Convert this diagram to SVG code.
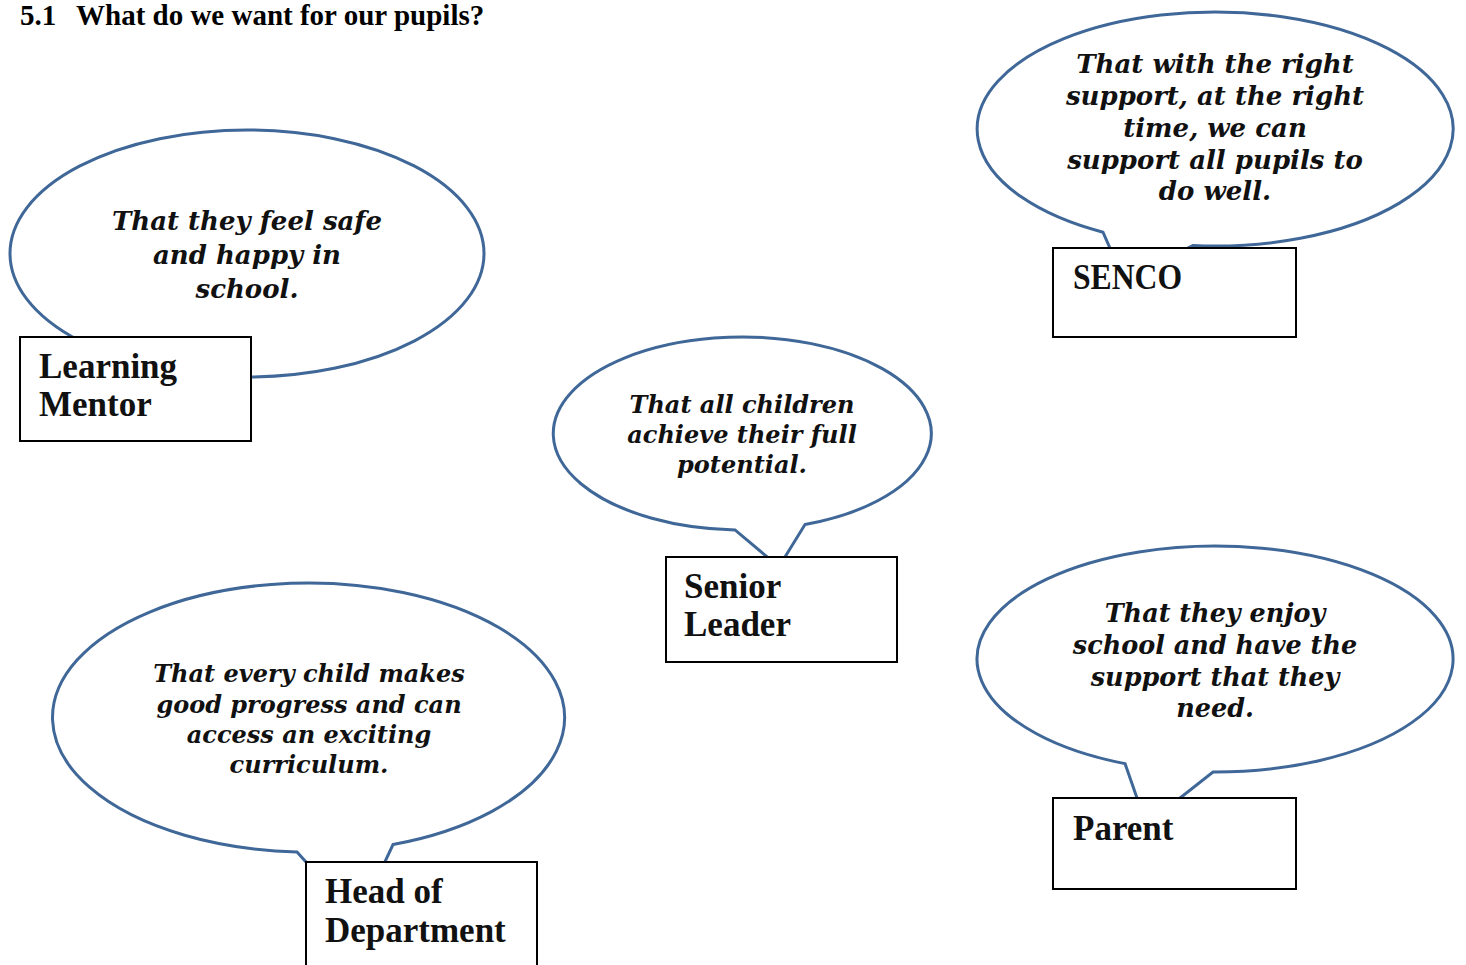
<svg xmlns="http://www.w3.org/2000/svg" width="1466" height="965" viewBox="0 0 1466 965">
<style>
.bubble{fill:#ffffff;stroke:#3f6798;stroke-width:3;stroke-linejoin:miter}
.box{fill:#ffffff;stroke:#000000;stroke-width:2}
.say{font-family:"DejaVu Serif","Liberation Serif",serif;font-weight:bold;font-style:italic;fill:#111111;text-anchor:middle}
.lbl{font-family:"Liberation Serif","DejaVu Serif",serif;font-weight:bold;font-size:35px;fill:#111111}
.title{font-family:"Liberation Serif","DejaVu Serif",serif;font-weight:bold;font-size:29px;fill:#000000}
</style>
<rect width="1466" height="965" fill="#ffffff"/>
<g id="title">
<text class="title" x="20" y="25">5.1</text>
<text class="title" x="76" y="25">What do we want for our pupils?</text>
</g>
<g id="connectors"></g>
<g id="learning-mentor">
<ellipse class="bubble" cx="247" cy="253.5" rx="237" ry="123.5"/>
<text class="say" font-size="26"><tspan x="247" y="230">That they feel safe</tspan><tspan x="247" y="264">and happy in</tspan><tspan x="247" y="298">school.</tspan></text>
<rect class="box" x="20" y="337" width="231" height="104"/>
<text class="lbl"><tspan x="39" y="378">Learning</tspan><tspan x="39" y="416">Mentor</tspan></text>
</g>
<g id="senco">
<path class="bubble" d="M1193,245.5 A238,117 0 1 0 1103,232.2 L1111.7,252 L1180,252 Z"/>
<text class="say" font-size="26"><tspan x="1215" y="73">That with the right</tspan><tspan x="1215" y="105">support, at the right</tspan><tspan x="1215" y="137">time, we can</tspan><tspan x="1215" y="169">support all pupils to</tspan><tspan x="1215" y="200">do well.</tspan></text>
<rect class="box" x="1053" y="248" width="243" height="89"/>
<text class="lbl" x="1073" y="289" textLength="109" lengthAdjust="spacingAndGlyphs">SENCO</text>
</g>
<g id="senior-leader">
<path class="bubble" d="M805,524.5 A189,96.5 0 1 0 735,529.9 L772,561 L782.5,561 Z"/>
<text class="say" font-size="24"><tspan x="742" y="413">That all children</tspan><tspan x="742" y="443">achieve their full</tspan><tspan x="742" y="473">potential.</tspan></text>
<rect class="box" x="666" y="557" width="231" height="105"/>
<text class="lbl"><tspan x="684" y="598">Senior</tspan><tspan x="684" y="636">Leader</tspan></text>
</g>
<g id="head-of-department">
<path class="bubble" d="M393,844.5 A256,134.5 0 1 0 297,851.9 L309.6,866 L383,866 Z"/>
<text class="say" font-size="24"><tspan x="309" y="682">That every child makes</tspan><tspan x="309" y="713">good progress and can</tspan><tspan x="309" y="743">access an exciting</tspan><tspan x="309" y="773">curriculum.</tspan></text>
<rect class="box" x="306" y="862" width="231" height="140"/>
<text class="lbl"><tspan x="325" y="903">Head of</tspan><tspan x="325" y="942">Department</tspan></text>
</g>
<g id="parent">
<path class="bubble" d="M1213,772 A238,113 0 1 0 1125,763.6 L1138.4,802 L1175,802 Z"/>
<text class="say" font-size="25.5"><tspan x="1215" y="622">That they enjoy</tspan><tspan x="1215" y="654">school and have the</tspan><tspan x="1215" y="686">support that they</tspan><tspan x="1215" y="717">need.</tspan></text>
<rect class="box" x="1053" y="798" width="243" height="91"/>
<text class="lbl" x="1073" y="840">Parent</text>
</g>
</svg>
